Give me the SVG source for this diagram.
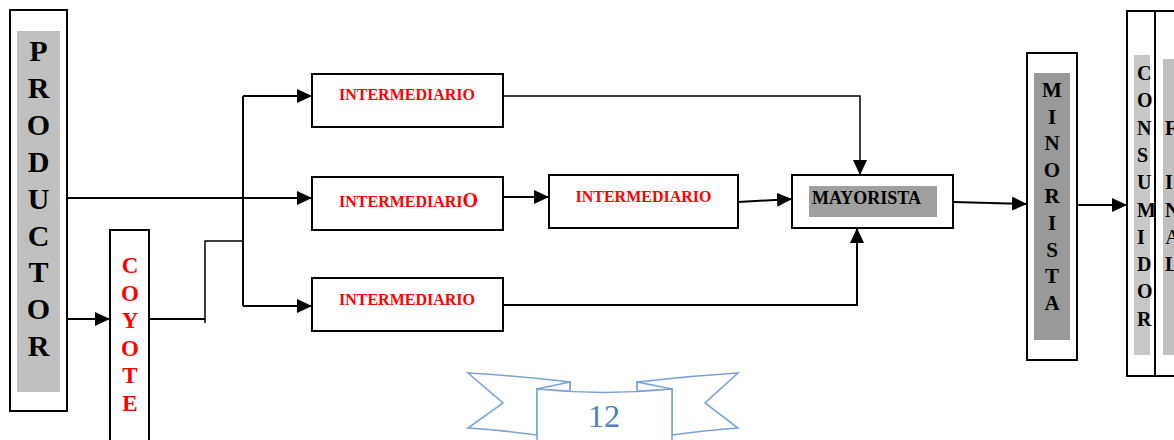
<svg xmlns="http://www.w3.org/2000/svg" width="1174" height="440" viewBox="0 0 1174 440">
<style>
.box{fill:#fff;stroke:#000;stroke-width:2}
.lbl{font-family:"Liberation Serif","Times New Roman",serif;font-weight:bold}
.red{fill:#ff0000}
.blk{fill:#000}
.ln{fill:none;stroke:#000;stroke-width:2}
.thin{fill:none;stroke:#000;stroke-width:1.5}
.rib{fill:#fff;stroke:#7ba2d8;stroke-width:1.6;stroke-linejoin:miter}
</style>
<defs>
<marker id="ah" markerUnits="userSpaceOnUse" markerWidth="15" markerHeight="14" refX="15" refY="7" orient="auto">
<path d="M0,0 L15,7 L0,14 z" fill="#000"/>
</marker>
</defs>
<rect width="1174" height="440" fill="#fff"/>

<g id="productor">
<rect class="box" x="10" y="10" width="57" height="401"/>
<rect x="17" y="31" width="43" height="361" fill="#c0c0c0"/>
<text class="lbl blk" font-size="30" text-anchor="middle">
<tspan x="38.5" y="61">P</tspan><tspan x="38.5" y="97.9">R</tspan><tspan x="38.5" y="134.8">O</tspan><tspan x="38.5" y="171.7">D</tspan><tspan x="38.5" y="208.6">U</tspan><tspan x="38.5" y="245.5">C</tspan><tspan x="38.5" y="282.4">T</tspan><tspan x="38.5" y="319.3">O</tspan><tspan x="38.5" y="356.2">R</tspan>
</text>
</g>

<g id="coyote">
<rect class="box" x="110" y="230" width="39" height="220"/>
<text class="lbl red" font-size="23" text-anchor="middle">
<tspan x="130" y="273">C</tspan><tspan x="130" y="301">O</tspan><tspan x="130" y="328">Y</tspan><tspan x="130" y="356">O</tspan><tspan x="130" y="383">T</tspan><tspan x="130" y="411">E</tspan>
</text>
</g>

<g id="intermediario1">
<rect class="box" x="312" y="74" width="191" height="53"/>
<text class="lbl red" font-size="16" x="407" y="100" text-anchor="middle">INTERMEDIARIO</text>
</g>
<g id="intermediario2">
<rect class="box" x="312" y="177" width="191" height="53"/>
<text class="lbl red" font-size="16" x="339" y="207">INTERMEDIARI<tspan font-size="20">O</tspan></text>
</g>
<g id="intermediario3">
<rect class="box" x="312" y="278" width="191" height="53"/>
<text class="lbl red" font-size="16" x="407" y="305" text-anchor="middle">INTERMEDIARIO</text>
</g>
<g id="intermediario4">
<rect class="box" x="549" y="175" width="189" height="53"/>
<text class="lbl red" font-size="16" x="643.5" y="202" text-anchor="middle">INTERMEDIARIO</text>
</g>

<g id="mayorista">
<rect class="box" x="792" y="175" width="161" height="53"/>
<rect x="809" y="186" width="128" height="31" fill="#a0a0a0"/>
<text class="lbl blk" font-size="18" x="812" y="204">MAYORISTA</text>
</g>

<g id="minorista">
<rect class="box" x="1027" y="53" width="50" height="307"/>
<rect x="1034" y="73" width="36" height="267" fill="#999999"/>
<text class="lbl blk" font-size="21" text-anchor="middle">
<tspan x="1052" y="97">M</tspan><tspan x="1052" y="123.6">I</tspan><tspan x="1052" y="150.2">N</tspan><tspan x="1052" y="176.8">O</tspan><tspan x="1052" y="203.4">R</tspan><tspan x="1052" y="230">I</tspan><tspan x="1052" y="256.6">S</tspan><tspan x="1052" y="283.2">T</tspan><tspan x="1052" y="309.8">A</tspan>
</text>
</g>

<g id="consumidor">
<rect class="box" x="1127" y="11" width="28" height="365"/>
<rect x="1134" y="55" width="16" height="300" fill="#c8c8c8"/>
<text class="lbl blk" font-size="20">
<tspan x="1137" y="80">C</tspan><tspan x="1137" y="107.3">O</tspan><tspan x="1137" y="134.6">N</tspan><tspan x="1137" y="161.9">S</tspan><tspan x="1137" y="189.2">U</tspan><tspan x="1137" y="216.5">M</tspan><tspan x="1137" y="243.8">I</tspan><tspan x="1137" y="271.1">D</tspan><tspan x="1137" y="298.4">O</tspan><tspan x="1137" y="325.7">R</tspan>
</text>
</g>

<g id="final">
<rect class="box" x="1155" y="11" width="30" height="365"/>
<rect x="1163" y="59" width="20" height="296" fill="#c0c0c0"/>
<text class="lbl blk" font-size="20">
<tspan x="1165" y="134.6">F</tspan><tspan x="1165" y="189.2">I</tspan><tspan x="1165" y="216.5">N</tspan><tspan x="1165" y="243.8" font-weight="normal">A</tspan><tspan x="1165" y="271.1">L</tspan>
</text>
</g>

<g id="connectors">
<path class="ln" d="M67,198 H312" marker-end="url(#ah)"/>
<path class="ln" d="M67,319 H110" marker-end="url(#ah)"/>
<path class="ln" d="M149,319 H205"/>
<path class="thin" d="M205,323 V241 H243"/>
<path class="ln" d="M243,96 V306"/>
<path class="ln" d="M243,96 H312" marker-end="url(#ah)"/>
<path class="ln" d="M243,306 H312" marker-end="url(#ah)"/>
<path class="thin" d="M503,96 H860 V175" marker-end="url(#ah)"/>
<path class="ln" d="M503,197 H549" marker-end="url(#ah)"/>
<path class="ln" d="M738,202 L792,199" marker-end="url(#ah)"/>
<path class="ln" d="M503,305 H857 V228" marker-end="url(#ah)"/>
<path class="ln" d="M953,202 L1027,204" marker-end="url(#ah)"/>
<path class="ln" d="M1077,205 H1127" marker-end="url(#ah)"/>
</g>

<g id="page-number">
<path class="rib" d="M468,373 Q520,376 570,382 L570,390 L537,389 L537,435 Q500,430 468,428 L503,403 Z"/>
<path class="rib" d="M738,373 Q688,376 637,382 L637,390 L672,389 L672,435 Q708,430 738,428 L705,403 Z"/>
<path class="rib" d="M537,389 L570,382 L570,390"/>
<path class="rib" d="M672,389 L637,382 L637,390"/>
<path class="rib" d="M537,445 V389 Q604,396 672,389 V445"/>
<text x="604" y="427" font-family="Liberation Serif, Times New Roman, serif" font-size="32" fill="#4f81bd" text-anchor="middle">12</text>
</g>
</svg>
